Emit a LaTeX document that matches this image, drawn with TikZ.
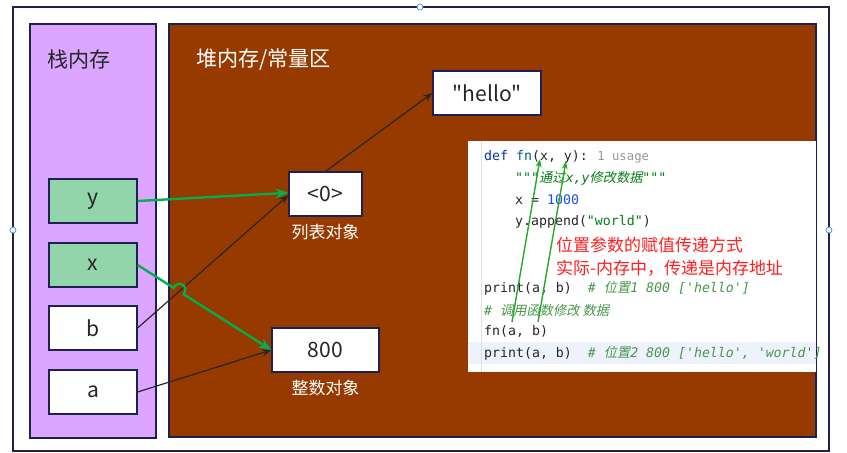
\documentclass[tikz,border=0pt]{standalone}
\usepackage{fontspec}
\setmainfont[Ligatures=TeXOff]{Noto Sans CJK SC}
\newfontfamily\codefont[Ligatures=TeXOff]{DejaVu Sans Mono}
\newfontfamily\cjkit[FakeSlant=0.2]{Noto Sans CJK SC}
\usetikzlibrary{arrows.meta,positioning,calc}
\definecolor{framenavy}{RGB}{30,32,80}
\definecolor{stackpurple}{RGB}{220,165,255}
\definecolor{heapbrown}{RGB}{150,58,0}
\definecolor{varmint}{RGB}{146,213,170}
\definecolor{linkgreen}{RGB}{0,176,80}
\definecolor{kwblue}{RGB}{0,51,179}
\definecolor{fnteal}{RGB}{0,98,122}
\definecolor{strgreen}{RGB}{6,125,23}
\definecolor{numblue}{RGB}{23,80,235}
\definecolor{cmtgreen}{RGB}{72,150,72}
\definecolor{hintgray}{RGB}{150,150,150}
\definecolor{lineblue}{RGB}{237,242,252}
\definecolor{handleblue}{RGB}{70,140,230}
\definecolor{notered}{RGB}{255,30,30}
\definecolor{codegreen}{RGB}{40,170,40}
\tikzset{
  varbox/.style={draw=framenavy, line width=1pt, minimum width=2.64cm, minimum height=1.32cm,
                 inner sep=0pt, font=\fontsize{18}{20}\selectfont, text=black!85},
  objbox/.style={draw=framenavy, line width=1pt, fill=white, minimum height=1.32cm,
                 inner sep=0pt, font=\fontsize{18}{20}\selectfont, text=black!85},
  objlabel/.style={font=\fontsize{14.5}{16}\selectfont, text=white, inner sep=0pt},
  codeline/.style={anchor=west, inner sep=0pt, font=\codefont\fontsize{11.3}{13}\selectfont, text=black!85},
  handle/.style={draw=handleblue, fill=white, line width=0.6pt, circle, inner sep=0pt, minimum size=0.18cm}
}

\begin{document}
\begin{tikzpicture}[>=Stealth, x=0.03cm, y=-0.03cm]
\useasboundingbox (0,0) rectangle (847,453);
% frames
\draw[framenavy, line width=1pt] (13,7) rectangle (829,451);
\draw[framenavy, line width=1pt, fill=stackpurple] (30,24) rectangle (156,438);
\draw[framenavy, line width=1pt, fill=heapbrown] (169,24) rectangle (816,437);
\node[anchor=west, inner sep=0pt, font=\fontsize{18}{20}\selectfont, text=black!85] (stacktitle) at (47,60) {栈内存};
\node[anchor=west, inner sep=0pt, font=\fontsize{18}{20}\selectfont, text=white] (heaptitle) at (196,60) {堆内存/常量区};

% stack variables
\node[varbox, fill=varmint] (vy) at (93,201) {y};
\node[varbox, fill=varmint] (vx) at (93,265) {x};
\node[varbox, fill=white] (vb) at (93,328) {b};
\node[varbox, fill=white] (va) at (93,392) {a};

% heap objects
\node[objbox, minimum width=3.24cm] (hello) at (487,93) {"hello"};
\node[objbox, minimum width=2.19cm] (lst) at (325.5,194) {<0>};
\node[objbox, minimum width=3.21cm] (num) at (325.5,350) {800};
\node[objlabel, below=0.22cm of lst] (lstlabel) {列表对象};
\node[objlabel, below=0.22cm of num] (numlabel) {整数对象};

% code snapshot
\fill[white] (468,141) rectangle (816,372);
\fill[lineblue] (468,342) rectangle (816,364);
\draw[gray!25, line width=0.5pt] (481,141) -- (481,372);
\node[codeline] (code1) at (484,157) {{\color{kwblue}def} {\color{fnteal}fn}(x, y):\hspace{1.3ex}{\color{hintgray}\fontsize{10.5}{12}\selectfont 1 usage}};
\node[codeline] (code2) at (515,178) {\color{strgreen}\itshape """{\cjkit 通过}x,y{\cjkit 修改数据}"""};
\node[codeline] (code3) at (515,200) {x = {\color{numblue}1000}};
\node[codeline] (code4) at (515,222) {y.append({\color{strgreen}"world"})};
\node[codeline] (code5) at (484,288) {print(a, b)\ \ {\color{cmtgreen}\itshape\# {\cjkit 位置}1 800 ['hello']}};
\node[codeline] (code6) at (484,310) {\color{cmtgreen}\itshape\# {\cjkit 调用函数修改 数据}};
\node[codeline] (code7) at (484,331) {fn(a, b)};
\node[codeline] (code8) at (484,353) {print(a, b)\ \ {\color{cmtgreen}\itshape\# {\cjkit 位置}2 800 ['hello', 'world']}};
\node[anchor=west, inner sep=0pt, font=\fontsize{14.5}{16}\selectfont, text=notered] (note1) at (556,245) {位置参数的赋值传递方式};
\node[anchor=west, inner sep=0pt, font=\fontsize{14.5}{16}\selectfont, text=notered] (note2) at (556,268) {实际-内存中，传递是内存地址};

% argument passing inside the code
\coordinate (argA) at (512,322);
\coordinate (argB) at (538,322);
\coordinate (parX) at (540,159);
\coordinate (parY) at (566,161);
\draw[->, codegreen, line width=1.2pt, >={Stealth[length=7pt,width=5pt]}] (argA) -- (parX);
\draw[->, codegreen, line width=1.2pt, >={Stealth[length=7pt,width=5pt]}] (argB) -- (parY);

% references
\draw[->, black!85, line width=1pt, >={Stealth[length=8pt,width=6pt]}] (lst.north) -- (hello.west);
\draw[->, black!85, line width=1pt, >={Stealth[length=8pt,width=6pt]}] (vb.east) -- ([yshift=-1pt]lst.west);
\draw[->, black!85, line width=1pt, >={Stealth[length=8pt,width=6pt]}] (va.east) -- (num.west);
\draw[->, linkgreen, line width=2pt, >={Stealth[length=11pt,width=8.5pt]}] (vy.east) -- ([yshift=1pt]lst.west);
\coordinate (jmpA) at ($(vx.east)!0.268!(num.west)$);
\coordinate (jmpB) at ($(vx.east)!0.345!(num.west)$);
\draw[->, linkgreen, line width=2pt, >={Stealth[length=11pt,width=8.5pt]}]
  (vx.east) -- (jmpA)
  .. controls ($(jmpA)!0.3cm!90:(jmpB)$) and ($(jmpB)!0.3cm!-90:(jmpA)$) .. (jmpB)
  -- (num.west);

% selection handles
\node[handle] (hTop) at (420,7) {};
\node[handle] (hLeft) at (13,230) {};
\node[handle] (hRight) at (829,230) {};
\end{tikzpicture}
\end{document}
